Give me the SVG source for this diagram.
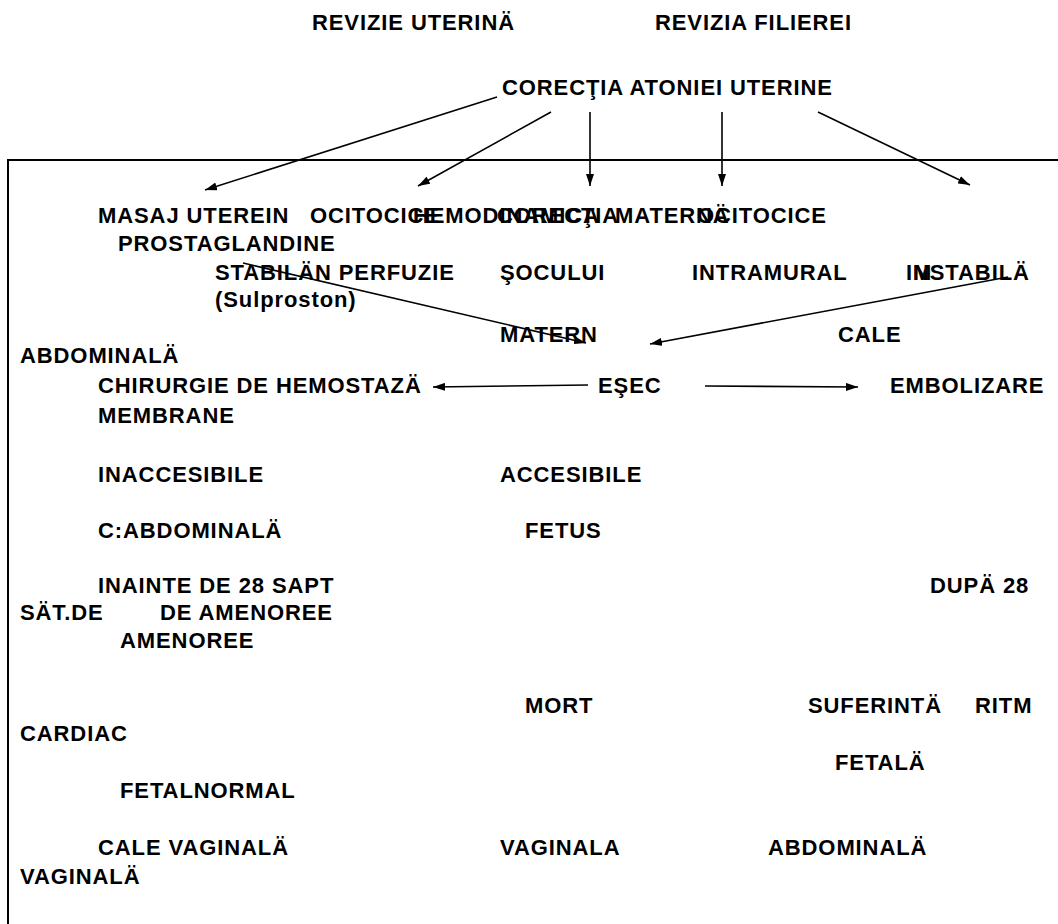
<svg xmlns="http://www.w3.org/2000/svg" width="1058" height="924" viewBox="0 0 1058 924">
  <style>
    text { font-family: "Liberation Sans", Arial, sans-serif; font-weight: bold; font-size: 22px; letter-spacing: 0.9px; fill: #000; }
    .edge { stroke: #000; stroke-width: 1.6; fill: none; marker-end: url(#arrow); }
    .frame { stroke: #000; stroke-width: 2; fill: none; }
  </style>
  <defs>
    <marker id="arrow" viewBox="0 0 12 8" refX="12" refY="4" markerWidth="12" markerHeight="8" markerUnits="userSpaceOnUse" orient="auto">
      <path d="M0,0 L12,4 L0,8 z" fill="#000"/>
    </marker>
  </defs>

  <rect width="1058" height="924" fill="#fff"/>

  <!-- frame around the lower part -->
  <path class="frame" d="M1058,160 L8,160 L8,924"/>

  <!-- header -->
  <g id="revizie-uterina"><text x="312" y="30">REVIZIE UTERINÄ</text></g>
  <g id="revizia-filierei"><text x="655" y="30">REVIZIA FILIEREI</text></g>
  <g id="corectia-atoniei"><text x="502" y="95">CORECŢIA ATONIEI UTERINE</text></g>

  <!-- first row (labels printed on top of each other) -->
  <g id="masaj"><text x="98" y="223">MASAJ UTEREIN</text></g>
  <g id="ocitocice-1"><text x="310" y="223">OCITOCICE</text></g>
  <g id="hemodinamica"><text x="413" y="223">HEMODINAMICA</text></g>
  <g id="corectia"><text x="497" y="223">CORECŢIA</text></g>
  <g id="materna"><text x="615" y="223">MATERNÄ</text></g>
  <g id="ocitocice-2"><text x="697" y="223">OCITOCICE</text></g>

  <g id="prostaglandine"><text x="118" y="251">PROSTAGLANDINE</text></g>
  <g id="stabilan"><text x="215" y="280">STABILÄN PERFUZIE</text></g>
  <g id="socului"><text x="500" y="280">ŞOCULUI</text></g>
  <g id="intramural"><text x="692" y="280">INTRAMURAL</text></g>
  <g id="instabila"><text x="906" y="280">INSTABILÄ</text><text x="913" y="280">M</text></g>
  <g id="sulproston"><text x="215" y="307">(Sulproston)</text></g>

  <g id="matern"><text x="500" y="342">MATERN</text></g>
  <g id="cale"><text x="838" y="342">CALE</text></g>
  <g id="abdominala-1"><text x="20" y="363">ABDOMINALÄ</text></g>

  <g id="chirurgie"><text x="98" y="393">CHIRURGIE DE HEMOSTAZÄ</text></g>
  <g id="esec"><text x="598" y="393">EŞEC</text></g>
  <g id="embolizare"><text x="890" y="393">EMBOLIZARE</text></g>
  <g id="membrane"><text x="98" y="423">MEMBRANE</text></g>

  <g id="inaccesibile"><text x="98" y="482">INACCESIBILE</text></g>
  <g id="accesibile"><text x="500" y="482">ACCESIBILE</text></g>

  <g id="c-abdominala"><text x="98" y="538">C:ABDOMINALÄ</text></g>
  <g id="fetus"><text x="525" y="538">FETUS</text></g>

  <g id="inainte"><text x="98" y="593">INAINTE DE 28 SAPT</text></g>
  <g id="dupa"><text x="930" y="593">DUPÄ 28</text></g>
  <g id="sat-de"><text x="20" y="620">SÄT.DE</text></g>
  <g id="de-amenoree"><text x="160" y="620">DE AMENOREE</text></g>
  <g id="amenoree"><text x="120" y="648">AMENOREE</text></g>

  <g id="mort"><text x="525" y="713">MORT</text></g>
  <g id="suferinta"><text x="808" y="713">SUFERINTÄ</text></g>
  <g id="ritm"><text x="975" y="713">RITM</text></g>
  <g id="cardiac"><text x="20" y="741">CARDIAC</text></g>
  <g id="fetala"><text x="835" y="770">FETALÄ</text></g>
  <g id="fetalnormal"><text x="120" y="798">FETALNORMAL</text></g>

  <g id="cale-vaginala"><text x="98" y="855">CALE VAGINALÄ</text></g>
  <g id="vaginala-1"><text x="500" y="855">VAGINALA</text></g>
  <g id="abdominala-2"><text x="768" y="855">ABDOMINALÄ</text></g>
  <g id="vaginala-2"><text x="20" y="884">VAGINALÄ</text></g>

  <!-- connectors -->
  <g id="connectors">
    <line class="edge" x1="497" y1="97" x2="205" y2="190"/>
    <line class="edge" x1="551" y1="112" x2="418" y2="186"/>
    <line class="edge" x1="590" y1="112" x2="590" y2="186"/>
    <line class="edge" x1="722" y1="112" x2="722" y2="186"/>
    <line class="edge" x1="818" y1="112" x2="970" y2="185"/>
    <line class="edge" x1="243" y1="263" x2="586" y2="343"/>
    <line class="edge" x1="1008" y1="277" x2="650" y2="344"/>
    <line class="edge" x1="588" y1="385" x2="433" y2="387"/>
    <line class="edge" x1="705" y1="386" x2="858" y2="387"/>
  </g>
</svg>
